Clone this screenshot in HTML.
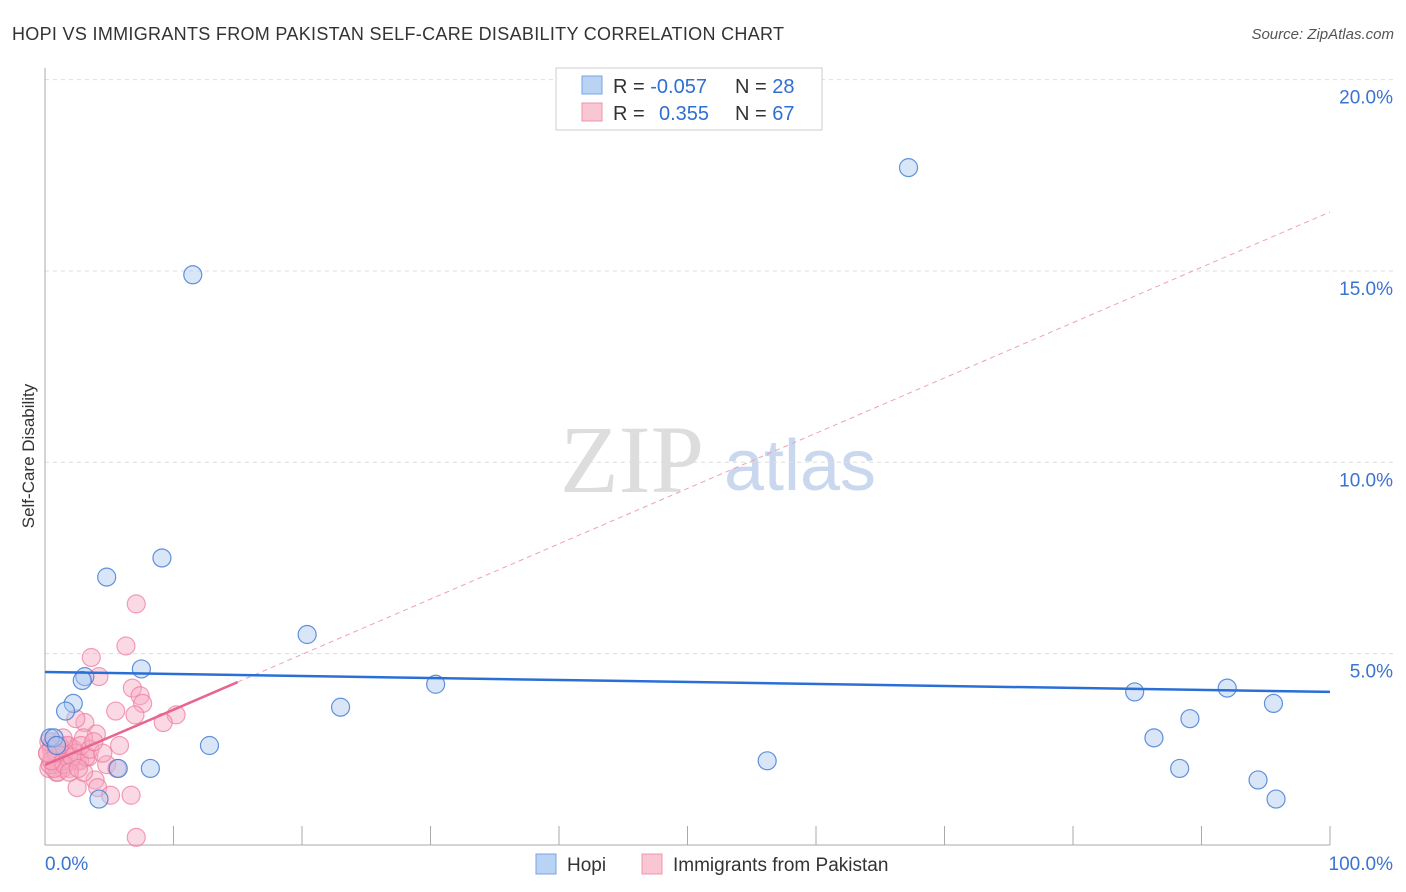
<!DOCTYPE html>
<html><head><meta charset="utf-8"><style>
body{margin:0;background:#fff;font-family:"Liberation Sans",sans-serif}
svg{display:block}
</style></head><body>
<svg id="chart" width="1406" height="892" xmlns="http://www.w3.org/2000/svg">
<text x="12" y="40" font-size="18" fill="#333" textLength="772">HOPI VS IMMIGRANTS FROM PAKISTAN SELF-CARE DISABILITY CORRELATION CHART</text>
<text x="1394" y="39" font-size="15" fill="#555" font-style="italic" text-anchor="end">Source: ZipAtlas.com</text>
<text x="632" y="492" font-size="96" fill="#ddd" font-family="Liberation Serif,serif" text-anchor="middle">ZIP</text>
<text x="800" y="490" font-size="72" fill="#c9d8ee" text-anchor="middle">atlas</text>
<text transform="translate(34,456) rotate(-90)" font-size="17" fill="#333" text-anchor="middle">Self-Care Disability</text>
<g id="grid"></g><g id="axes"></g><g id="lines"></g><g id="pts"></g>
<g>
<rect x="556" y="68" width="266" height="62" fill="#fff" stroke="#ccc"/>
<rect x="582" y="76" width="20" height="18" fill="#b9d3f5" stroke="#7aa6e0"/>
<rect x="582" y="103" width="20" height="18" fill="#f9c6d4" stroke="#ee94ad"/>
<text x="613" y="93" font-size="20" fill="#333">R = <tspan fill="#2f6fd0">-0.057</tspan><tspan x="735">N = </tspan><tspan fill="#2f6fd0">28</tspan></text>
<text x="613" y="120" font-size="20" fill="#333">R = <tspan x="659" fill="#2f6fd0">0.355</tspan><tspan x="735">N = </tspan><tspan fill="#2f6fd0">67</tspan></text>
</g>
<g>
<rect x="536" y="854" width="20" height="20" fill="#b9d3f5" stroke="#7aa6e0"/>
<text x="567" y="871" font-size="19" fill="#333">Hopi</text>
<rect x="642" y="854" width="20" height="20" fill="#f9c6d4" stroke="#ee94ad"/>
<text x="673" y="871" font-size="19" fill="#333">Immigrants from Pakistan</text>
</g>
<text x="45" y="870" font-size="19" fill="#3b73d1">0.0%</text>
<text x="1393" y="870" font-size="19" fill="#3b73d1" text-anchor="end">100.0%</text>
</svg>
<script>
const yTicks=[5,10,15,20];
const hopiX=[67.2,11.5,9.1,4.8,20.4,7.5,3.1,2.9,30.4,2.2,1.6,23.0,12.8,0.4,0.7,5.7,8.2,4.2,56.2,84.8,92.0,89.1,95.6,86.3,88.3,94.4,95.8,0.9];
const hopiY=[17.7,14.9,7.5,7.0,5.5,4.6,4.4,4.3,4.2,3.7,3.5,3.6,2.6,2.8,2.8,2.0,2.0,1.2,2.2,4.0,4.1,3.3,3.7,2.8,2.0,1.7,1.2,2.6];
const pakX=[7.1,6.3,3.6,4.2,6.8,7.4,7.6,5.5,7.0,10.2,9.2,3.1,2.4,4.0,3.0,5.8,4.8,3.4,2.5,1.2,0.6,0.5,1.7,1.9,0.9,2.5,3.9,4.1,5.1,6.7,7.1,5.6,3.0,1.2,0.8,0.3,0.5,0.8,1.1,1.4,1.6,2.0,2.2,2.7,1.0,0.4,0.6,1.3,1.8,2.4,3.2,0.2,0.7,1.5,2.1,2.8,3.5,4.5,0.3,0.9,1.1,1.9,2.6,1.4,0.5,0.2,3.8];
const pakY=[6.3,5.2,4.9,4.4,4.1,3.9,3.7,3.5,3.4,3.4,3.2,3.2,3.3,2.9,2.8,2.6,2.1,2.3,2.2,2.1,2.3,2.6,2.6,2.0,1.9,1.5,1.7,1.5,1.3,1.3,0.2,2.0,1.9,2.4,2.2,2.0,2.5,2.1,2.3,2.0,2.4,2.2,2.5,2.2,1.9,2.1,2.7,2.2,2.6,2.4,2.3,2.4,2.0,2.1,2.3,2.6,2.5,2.4,2.7,2.4,2.6,1.9,2.0,2.8,2.2,2.4,2.7];
const hopiLine=[4.52,4.0];
const pakLine=[2.09,16.54];
const pakSolidEnd=15;
const X=v=>45+v*12.85, Y=v=>845-v*38.27;
const NS='http://www.w3.org/2000/svg';
function mk(t,a,p){const e=document.createElementNS(NS,t);for(const k in a)e.setAttribute(k,a[k]);p.appendChild(e);return e;}
const grid=document.getElementById('grid');
yTicks.forEach(t=>{
 const l=mk('line',{x1:45,x2:1394,y1:Y(t),y2:Y(t),stroke:'#ddd','stroke-dasharray':'4,4'},grid);
 
 
 const tx=mk('text',{x:1393,y:Y(t)+24,'font-size':19,fill:'#3b73d1','text-anchor':'end'},grid);
 tx.textContent=t.toFixed(1)+'%';
 
 
});
const axes=document.getElementById('axes');
const ya=mk('line',{x1:45,x2:45,y1:68,y2:845,stroke:'#aaa'},axes);


const xa=mk('line',{x1:45,x2:1330,y1:845,y2:845,stroke:'#aaa'},axes);


for(let i=1;i<=10;i++){const t=mk('line',{x1:X(i*10),x2:X(i*10),y1:826,y2:845,stroke:'#aaa'},axes);
 
 }
const pts=document.getElementById('pts');
pakX.forEach((x,i)=>{const c=mk('circle',{cx:X(x),cy:Y(pakY[i]),r:9,fill:'rgba(246,170,195,0.45)',stroke:'rgba(236,120,155,0.7)','stroke-width':1.2},pts);
 
 });
hopiX.forEach((x,i)=>{const c=mk('circle',{cx:X(x),cy:Y(hopiY[i]),r:9,fill:'rgba(170,200,240,0.45)',stroke:'rgba(60,120,210,0.8)','stroke-width':1.2},pts);
 
 });
const lines=document.getElementById('lines');
const pe=pakLine[0]+(pakLine[1]-pakLine[0])*pakSolidEnd/100;
const pd=mk('line',{x1:X(pakSolidEnd),y1:Y(pe),x2:X(100),y2:Y(pakLine[1]),stroke:'#eea0b8','stroke-dasharray':'5,4'},lines);


const hl=mk('line',{x1:X(0),y1:Y(hopiLine[0]),x2:X(100),y2:Y(hopiLine[1]),stroke:'#2a6fd6','stroke-width':2.5},pts);


const pl=mk('line',{x1:X(0),y1:Y(pakLine[0]),x2:X(pakSolidEnd),y2:Y(pe),stroke:'#e8668e','stroke-width':2.5},pts);


</script>
</body></html>
